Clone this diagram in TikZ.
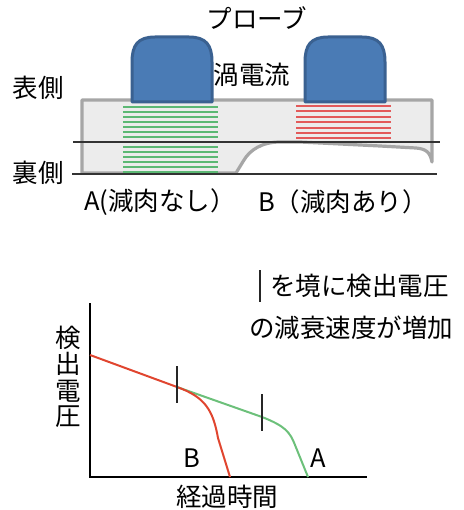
\documentclass[tikz,border=0pt]{standalone}
\usepackage{fontspec}
\setmainfont{Noto Sans CJK JP}
\definecolor{probefill}{HTML}{4A7BB5}
\definecolor{probeedge}{HTML}{3A6191}
\definecolor{platefill}{HTML}{ECECEC}
\definecolor{plateedge}{HTML}{A6A6A6}
\definecolor{eddygreen}{HTML}{5CB874}
\definecolor{eddyred}{HTML}{E35A5A}
\definecolor{curvered}{HTML}{E0452F}
\definecolor{curvegreen}{HTML}{6CC07A}
\tikzset{
  lbl/.style={inner sep=0pt, font=\fontsize{25.5}{30}\selectfont},
  probe/.style={fill=probefill, draw=probeedge, line width=3pt, line join=round},
  plate/.style={fill=platefill, draw=plateedge, line width=3.2pt, line join=round},
  refline/.style={draw=black!80, line width=1.4pt},
  greenline/.style={draw=eddygreen, line width=2pt},
  redline/.style={draw=eddyred, line width=2pt},
  axis/.style={draw=black, line width=1.5pt},
  tick/.style={draw=black!85, line width=1.5pt},
}
\begin{document}
\begin{tikzpicture}[x=1pt, y=-1pt]
\useasboundingbox (0,0) rectangle (463,510);

% --- cross-section of the plate ---
\path[plate] (82,100) -- (432,100) -- (432,162)
  .. controls (430,152) and (426,149) .. (416,148)
  -- (380,146) -- (300,142) -- (280,142)
  .. controls (262,142) and (250,150) .. (244,160)
  .. controls (240,167) .. (236,173) -- (82,173) -- cycle;

% eddy currents under each probe
\foreach \i in {0,...,13} {
  \draw[greenline] (123,107+5*\i) -- (218,107+5*\i);
}
\foreach \i in {0,...,6} {
  \draw[redline] (296,106+5.4*\i) -- (391,106+5.4*\i);
}

% surface reference lines
\coordinate (l1a) at (73,142);  \coordinate (l1b) at (440,142);
\coordinate (l2a) at (72,174);  \coordinate (l2b) at (437,174);
\draw[refline] (l1a) -- (l1b);
\draw[refline] (l2a) -- (l2b);

% probes
\path[probe] (132,102) -- (132,62) .. controls (132,45) and (138,37) .. (155,37)
  -- (189,37) .. controls (206,37) and (212,45) .. (212,62) -- (212,102) -- cycle;
\path[probe] (305,102) -- (305,62) .. controls (305,45) and (311,37) .. (328,37)
  -- (362,37) .. controls (379,37) and (385,45) .. (385,62) -- (385,102) -- cycle;

% labels of the cross-section
\node[lbl] (probe) at (257,18) {プローブ};
\node[lbl] (eddy) at (252,75) {渦電流};
\node[lbl] (front) at (38,88) {表側};
\node[lbl] (back) at (38,173) {裏側};
\node[lbl] (caseA) at (160,202) {A(減肉なし）};
\node[lbl] (caseB) at (343,202) {B（減肉あり）};

% --- voltage decay chart ---
\coordinate (origin) at (90,477);
\coordinate (ytop) at (90,303);
\coordinate (xend) at (367,477);
\draw[axis] (ytop) -- (origin) -- (xend);

\coordinate (start) at (90,355);
\coordinate (kinkB) at (177,387);
\coordinate (kinkA) at (262,417);
\coordinate (endB) at (230,477);
\coordinate (endA) at (308,477);

\draw[curvegreen, line width=2pt, line join=round] (kinkB) -- (kinkA)
  .. controls (285,426) and (290,432) .. (295,445) -- (endA);
\draw[curvered, line width=2pt, line join=round] (start) -- (kinkB)
  .. controls (205,397) and (213,410) .. (218,438) -- (endB);

\coordinate (t1a) at (177,366); \coordinate (t1b) at (177,403);
\coordinate (t2a) at (262,394); \coordinate (t2b) at (262,431);
\draw[tick] (t1a) -- (t1b);
\draw[tick] (t2a) -- (t2b);

\node[lbl] (labB) at (192,458) {B};
\node[lbl] (labA) at (318,458) {A};

\node[lbl] (yl1) at (68,338) {検};
\node[lbl] (yl2) at (68,364) {出};
\node[lbl] (yl3) at (68,391) {電};
\node[lbl] (yl4) at (68,417) {圧};
\node[lbl] (xlab) at (227,497) {経過時間};

% note on the change of decay rate
\coordinate (bara) at (260,270); \coordinate (barb) at (260,302);
\draw[tick] (bara) -- (barb);
\node[lbl, anchor=west] (note1) at (270,286) {を境に検出電圧};
\node[lbl] (note2) at (351,328) {の減衰速度が増加};
\end{tikzpicture}
\end{document}
